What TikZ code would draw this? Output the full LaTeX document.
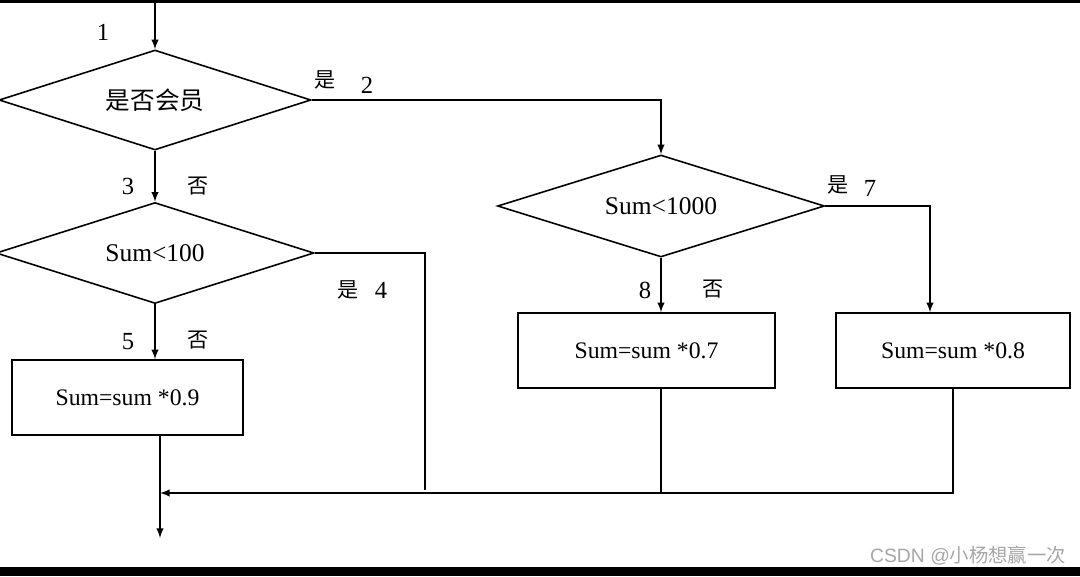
\documentclass[tikz,border=0pt]{standalone}
\usepackage{fontspec}
\setmainfont{Liberation Serif}
\setsansfont{Liberation Sans}
\newfontfamily\cjk{Noto Sans CJK SC}
\usetikzlibrary{shapes.geometric}
\begin{document}
\begin{tikzpicture}[>=latex, x=0.02cm, y=-0.02cm, line width=0.9pt,
    decision/.style={diamond, draw, aspect=3, inner sep=0pt, font=\fontsize{14.5}{16}\selectfont},
    process/.style={rectangle, draw, inner sep=0pt, minimum height=1.5cm, font=\fontsize{13.5}{15}\selectfont},
    tag/.style={inner sep=0pt, font=\fontsize{14}{16}\selectfont},
    yesno/.style={inner sep=0pt, font=\fontsize{12}{14}\selectfont\cjk}]
    \useasboundingbox (0,0) rectangle (1080,576);
    \fill (0,0) rectangle (1080,3);
    \fill (0,567) rectangle (1080,576);
    % decisions
    \coordinate (start) at (155,3);
    \node[decision, minimum width=6.24cm, minimum height=2cm] (member) at (155,100) {\cjk\fontsize{14}{16}\selectfont 是否会员};
    \node[decision, minimum width=6.36cm, minimum height=2.02cm] (lt100) at (155,253) {Sum<100};
    \node[decision, minimum width=6.54cm, minimum height=2.04cm] (lt1000) at (661,206) {Sum<1000};
    % processes
    \node[process, minimum width=4.62cm] (r09) at (127.5,397.5) {Sum=sum *0.9};
    \node[process, minimum width=5.14cm] (r07) at (646.5,350.5) {Sum=sum *0.7};
    \node[process, minimum width=4.68cm] (r08) at (953,350.5) {Sum=sum *0.8};
    \coordinate (c4) at (425,253);
    \coordinate (e4) at (425,490);
    \coordinate (c7) at (930,206);
    \coordinate (join) at (160,493);
    \coordinate (stop) at (160,538);
    % connectors
    \draw[->] (start) -- (member.north);
    \draw[->] (member.east) -| (lt1000.north);
    \draw[->] (member.south) -- (lt100.north);
    \draw (lt100.east) -- (c4) -- (e4);
    \draw[->] (lt100.south) -- (lt100.south |- r09.north);
    \draw[->] (lt1000.south) -- (lt1000.south |- r07.north);
    \draw[->] (lt1000.east) -- (c7) -- (c7 |- r08.north);
    \draw (lt1000.south |- r07.south) -- (lt1000.south |- join);
    \draw[->] (r08.south) |- (join);
    \draw[->] (r09.south -| stop) -- (stop);
    % labels
    \node[tag] (n1) at (103,32) {1};
    \node[yesno] (y2) at (325,80) {是};
    \node[tag] (n2) at (367,85) {2};
    \node[tag] (n3) at (128,186) {3};
    \node[yesno] (no3) at (198,186) {否};
    \node[yesno] (y4) at (348,290) {是};
    \node[tag] (n4) at (381,290) {4};
    \node[tag] (n5) at (128,342) {5};
    \node[yesno] (no5) at (198,340) {否};
    \node[yesno] (y7) at (838,185) {是};
    \node[tag] (n7) at (870,188) {7};
    \node[tag] (n8) at (645,290) {8};
    \node[yesno] (no8) at (713,289) {否};
    \node[text=gray!70, inner sep=0pt, font=\fontsize{11}{13}\selectfont\sffamily] (mark) at (968,556) {CSDN @{\cjk 小杨想赢一次}};
\end{tikzpicture}
\end{document}
